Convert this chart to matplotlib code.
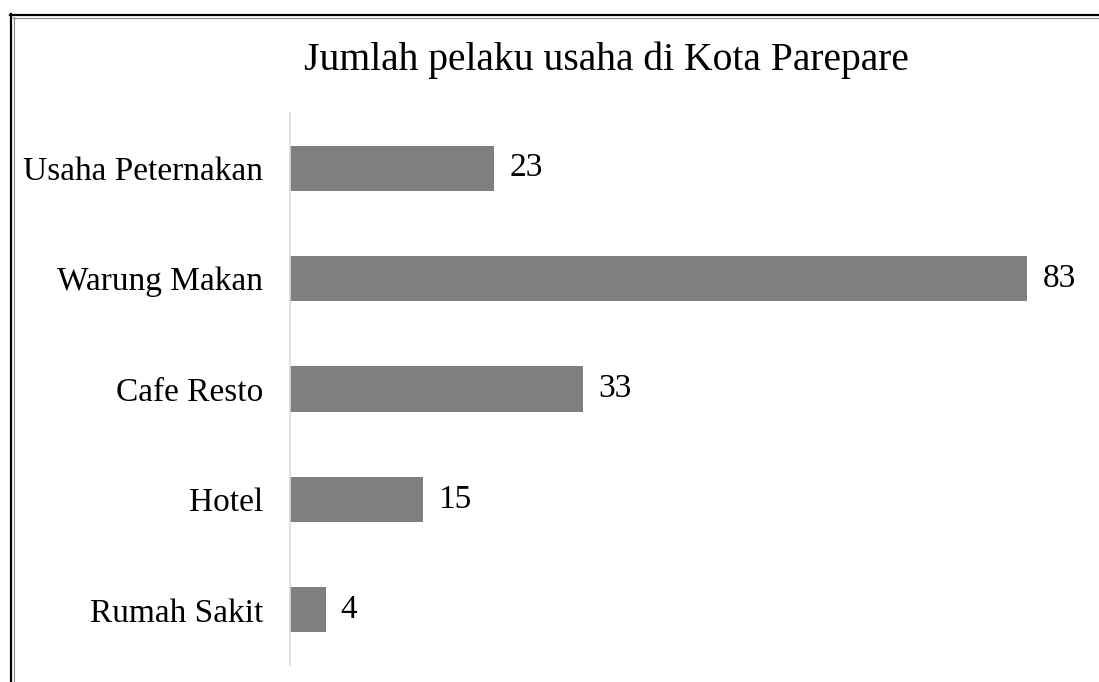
import matplotlib
matplotlib.use("Agg")
import matplotlib.pyplot as plt
from matplotlib.lines import Line2D

categories = ["Usaha Peternakan", "Warung Makan", "Cafe Resto", "Hotel", "Rumah Sakit"]
values = [23, 83, 33, 15, 4]
title = "Jumlah pelaku usaha di Kota Parepare"

plt.rcParams['font.family'] = ['Liberation Serif', 'DejaVu Serif']

W, H = 1099, 682
fig = plt.figure(figsize=(W / 100, H / 100), dpi=100)

# axes placement in pixels
x0, x1 = 290, 1027  # 0 -> x0, 83 -> x1
y_top, y_bot = 113, 665
xmax = 90
px_per_unit = (x1 - x0) / 83
ax_w = xmax * px_per_unit
ax = fig.add_axes([x0 / W, 1 - y_bot / H, ax_w / W, (y_bot - y_top) / H])

ypos = list(range(len(categories)))
ax.barh(ypos, values, height=0.41, color="#7f7f7f")
ax.set_ylim(len(categories) - 0.5, -0.5)
ax.set_xlim(0, xmax)
ax.set_yticks(ypos)
ax.set_yticklabels(categories, fontsize=24)
ax.tick_params(axis='y', length=0, pad=19.5)
ax.set_xticks([])
for s in ["top", "right", "bottom"]:
    ax.spines[s].set_visible(False)
ax.spines["left"].set_color("#d9d9d9")
ax.spines["left"].set_linewidth(1.2)

for y, v in zip(ypos, values):
    ax.annotate(str(v), xy=(v, y), xytext=(11, 0), textcoords="offset points",
                ha="left", va="center", fontsize=24)

fig.text(606 / W, 1 - 60 / H, title, ha="center", va="center", fontsize=28.5)

# border lines (top and left, double)
def fx(p):
    return p / W
def fy(p):
    return 1 - p / H
fig.add_artist(Line2D([fx(10), 1], [fy(15), fy(15)], color="black", lw=1.6))
fig.add_artist(Line2D([fx(12.5), 1], [fy(17.5), fy(17.5)], color="#888888", lw=0.8))
fig.add_artist(Line2D([fx(11), fx(11)], [fy(14), 0], color="black", lw=1.6))
fig.add_artist(Line2D([fx(13.5), fx(13.5)], [fy(17), 0], color="#888888", lw=0.8))

fig.savefig("out.png", dpi=100)
